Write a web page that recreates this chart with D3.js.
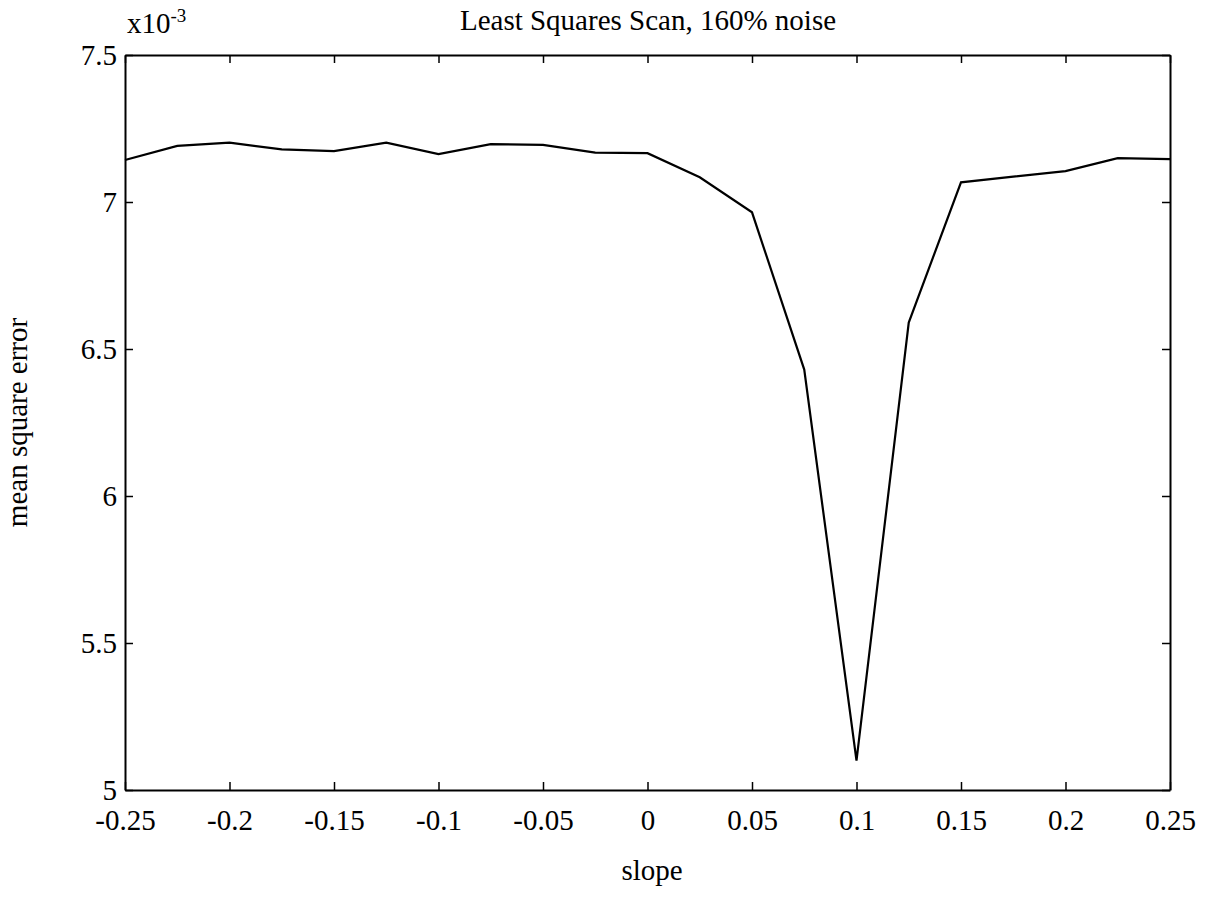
<!DOCTYPE html>
<html>
<head>
<meta charset="utf-8">
<script src="https://cdn.jsdelivr.net/npm/d3@7"></script>
<style>
  html, body { margin: 0; padding: 0; background: #fff; }
  svg { display: block; }
  text { font-family: "Liberation Serif", "Times New Roman", serif; fill: #000; }
</style>
</head>
<body>
<svg id="chart" width="1214" height="903"></svg>
<script>
// Data (mean square error, units of 1e-3)
const slopes = [-0.25, -0.225, -0.2, -0.175, -0.15, -0.125, -0.1, -0.075, -0.05, -0.025,
                0, 0.025, 0.05, 0.075, 0.1, 0.125, 0.15, 0.175, 0.2, 0.225, 0.25];
const mse = [7.143, 7.191, 7.202, 7.179, 7.173, 7.202, 7.163, 7.197, 7.194, 7.168,
             7.166, 7.084, 6.965, 6.43, 5.10, 6.59, 7.067, 7.086, 7.105, 7.149, 7.146];
const xTicks = [-0.25, -0.2, -0.15, -0.1, -0.05, 0, 0.05, 0.1, 0.15, 0.2, 0.25];
const xTickLabels = ["-0.25", "-0.2", "-0.15", "-0.1", "-0.05", "0", "0.05", "0.1", "0.15", "0.2", "0.25"];
const yTicks = [5, 5.5, 6, 6.5, 7, 7.5];
const yTickLabels = ["5", "5.5", "6", "6.5", "7", "7.5"];
const titleText = "Least Squares Scan, 160% noise";
const xLabel = "slope";
const yLabel = "mean square error";
const expLabel = "x10";
const expSup = "-3";

const svg = d3.select("#chart");
const m = { left: 125, right: 1170, top: 55, bottom: 790 };

const x = d3.scaleLinear().domain([-0.25, 0.25]).range([m.left, m.right]);
const y = d3.scaleLinear().domain([5, 7.5]).range([m.bottom, m.top]);

const fs = 29;
const tickLen = 8;

const gBottom = svg.append("g").attr("transform", `translate(0,${m.bottom})`)
  .call(d3.axisBottom(x).tickValues(xTicks).tickFormat((d, i) => xTickLabels[i])
        .tickSizeInner(-tickLen).tickSizeOuter(0).tickPadding(19));
const gTop = svg.append("g").attr("transform", `translate(0,${m.top})`)
  .call(d3.axisTop(x).tickValues(xTicks).tickFormat("").tickSizeInner(-tickLen).tickSizeOuter(0));
const gLeft = svg.append("g").attr("transform", `translate(${m.left},0)`)
  .call(d3.axisLeft(y).tickValues(yTicks).tickFormat((d, i) => yTickLabels[i])
        .tickSizeInner(-tickLen).tickSizeOuter(0).tickPadding(8));
const gRight = svg.append("g").attr("transform", `translate(${m.right},0)`)
  .call(d3.axisRight(y).tickValues(yTicks).tickFormat("").tickSizeInner(-tickLen).tickSizeOuter(0));

[gBottom, gTop, gLeft, gRight].forEach(g => {
  g.selectAll("path.domain").attr("stroke", "#000").attr("stroke-width", 2);
  g.selectAll(".tick line").attr("stroke", "#000").attr("stroke-width", 1.5);
  g.selectAll(".tick text").attr("font-size", fs).attr("font-family", "Liberation Serif").attr("fill", "#000");
});

const line = d3.line().x((d, i) => x(slopes[i])).y(d => y(d));
svg.append("path").datum(mse)
  .attr("d", line).attr("fill", "none").attr("stroke", "#000").attr("stroke-width", 2.2)
  .attr("stroke-linejoin", "miter");

svg.append("text").attr("x", 648).attr("y", 30)
  .attr("text-anchor", "middle").attr("font-size", 29).text(titleText);

const ex = svg.append("text").attr("x", m.left + 2).attr("y", 33).attr("font-size", fs);
ex.append("tspan").text(expLabel);
ex.append("tspan").attr("dy", -11).attr("font-size", 19).text(expSup);

svg.append("text").attr("x", 652).attr("y", 880)
  .attr("text-anchor", "middle").attr("font-size", fs).text(xLabel);

svg.append("text").attr("transform", `translate(27,${(m.top + m.bottom) / 2}) rotate(-90)`)
  .attr("text-anchor", "middle").attr("font-size", fs).text(yLabel);
</script>
</body>
</html>
